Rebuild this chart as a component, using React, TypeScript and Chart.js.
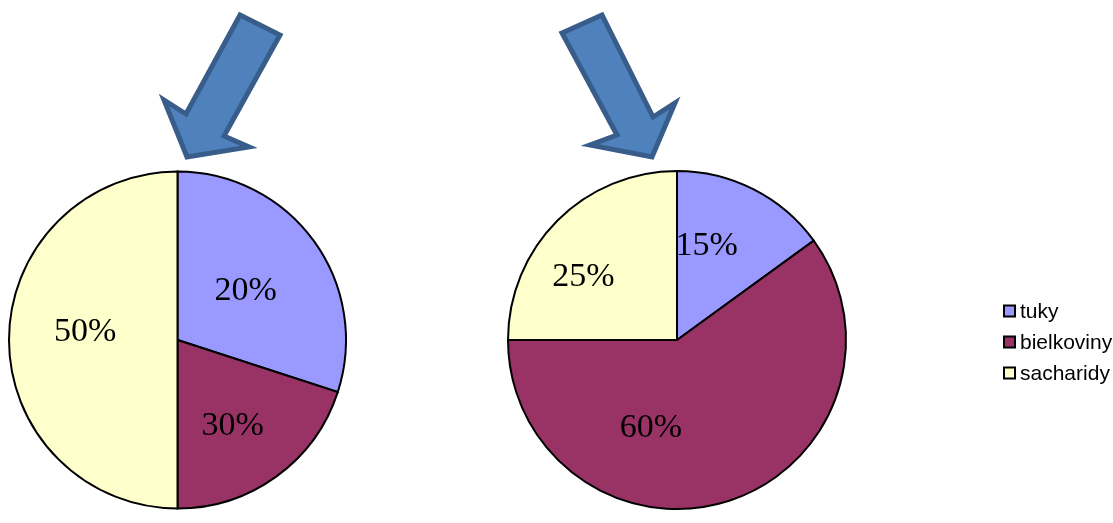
import React, { useEffect, useRef } from "react";
import { Chart, registerables } from "chart.js";

Chart.register(...registerables);

const categories = ["tuky", "bielkoviny", "sacharidy"];
const leftSliceValues = [30, 20, 50];
const leftLabels = ["20%", "30%", "50%"];
const rightSliceValues = [15, 60, 25];
const rightLabels = ["15%", "60%", "25%"];
const sliceColors = ["#9999FF", "#993366", "#FFFFCC"];

// label placement: fraction along the slice's arc, fraction of radius
const leftLabelPlacement = [
  [0.5, 0.5],
  [0.54, 0.6],
  [0.53, 0.55],
];
const rightLabelPlacement = [
  [0.32, 0.59],
  [0.66, 0.54],
  [0.38, 0.67],
];

const W = 1113;
const H = 523;

const leftArrow = [
  [240, 15], [280, 35], [224, 136], [249, 147], [187, 157], [164, 100], [186, 114],
];
const rightArrow = [
  [562, 33], [602, 15], [653, 117], [675, 103], [652, 157], [590, 145], [617, 135],
];

function drawArrow(ctx: CanvasRenderingContext2D, pts: number[][]) {
  ctx.save();
  ctx.beginPath();
  pts.forEach((p, i) => (i === 0 ? ctx.moveTo(p[0], p[1]) : ctx.lineTo(p[0], p[1])));
  ctx.closePath();
  ctx.fillStyle = "#4F81BD";
  ctx.fill();
  ctx.lineWidth = 5;
  ctx.lineJoin = "miter";
  ctx.strokeStyle = "#385D8A";
  ctx.stroke();
  ctx.restore();
}

function makeDecor(arrow: number[][], labels: string[], placement: number[][], withLegend: boolean) {
  return {
    id: "decor",
    afterDatasetsDraw(chart: any) {
      const ctx: CanvasRenderingContext2D = chart.ctx;
      drawArrow(ctx, arrow);
      const meta = chart.getDatasetMeta(0);
      ctx.save();
      ctx.font = "34px 'Liberation Serif', 'Times New Roman', serif";
      ctx.fillStyle = "#000";
      ctx.textAlign = "center";
      ctx.textBaseline = "middle";
      meta.data.forEach((arc: any, i: number) => {
        const p = arc.getProps(["x", "y", "startAngle", "endAngle", "outerRadius"], true);
        const a = p.startAngle + placement[i][0] * (p.endAngle - p.startAngle);
        const r = p.outerRadius * placement[i][1];
        ctx.fillText(labels[i], p.x + Math.cos(a) * r, p.y + Math.sin(a) * r + 1);
      });
      ctx.restore();
      if (withLegend) {
        ctx.save();
        ctx.font = "21px 'Liberation Sans', Arial, sans-serif";
        ctx.textBaseline = "middle";
        ctx.textAlign = "left";
        const ds = chart.data.datasets[0];
        chart.data.labels.forEach((lab: string, i: number) => {
          const cy = 311 + i * 31;
          ctx.fillStyle = ds.backgroundColor[i];
          ctx.fillRect(1004, cy - 5.5, 11, 11);
          ctx.lineWidth = 2;
          ctx.strokeStyle = "#000";
          ctx.strokeRect(1004, cy - 5.5, 11, 11);
          ctx.fillStyle = "#000";
          ctx.fillText(lab, 1020, cy + 1);
        });
        ctx.restore();
      }
    },
  };
}

function makeConfig(values: number[], padding: any, plugin: any): any {
  return {
    type: "pie",
    data: {
      labels: categories,
      datasets: [
        {
          data: values,
          backgroundColor: sliceColors,
          borderColor: "#000",
          borderWidth: 2,
          borderJoinStyle: "miter",
        },
      ],
    },
    options: {
      responsive: false,
      animation: false,
      events: [],
      layout: { padding },
      plugins: {
        legend: { display: false },
        tooltip: { enabled: false },
      },
    },
    plugins: [plugin],
  };
}

export default function App() {
  const leftRef = useRef<HTMLCanvasElement>(null);
  const rightRef = useRef<HTMLCanvasElement>(null);

  useEffect(() => {
    const c1 = new Chart(
      leftRef.current!,
      makeConfig(
        leftSliceValues,
        { left: 8, right: W - 347, top: 170, bottom: H - 510 },
        makeDecor(leftArrow, leftLabels, leftLabelPlacement, false)
      )
    );
    const c2 = new Chart(
      rightRef.current!,
      makeConfig(
        rightSliceValues,
        { left: 507, right: W - 847, top: 170, bottom: H - 510 },
        makeDecor(rightArrow, rightLabels, rightLabelPlacement, true)
      )
    );
    return () => {
      c1.destroy();
      c2.destroy();
    };
  }, []);

  const cs: React.CSSProperties = { position: "absolute", left: 0, top: 0, width: W, height: H };
  return (
    <div style={{ position: "fixed", left: 0, top: 0, width: W, height: H, background: "#fff" }}>
      <canvas ref={leftRef} width={W} height={H} style={cs} />
      <canvas ref={rightRef} width={W} height={H} style={cs} />
    </div>
  );
}
